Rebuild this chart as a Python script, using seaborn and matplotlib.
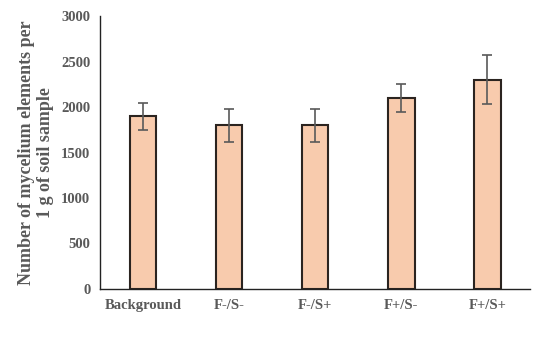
import seaborn as sns
import matplotlib.pyplot as plt
import pandas as pd

categories = ['Background', 'F-/S-', 'F-/S+', 'F+/S-', 'F+/S+']
means = [1900, 1800, 1800, 2100, 2300]
errors = [150, 180, 180, 150, 270]

df = pd.DataFrame({'group': categories, 'count': means})

sns.set_style('white')
plt.rcParams['font.family'] = ['Liberation Serif', 'DejaVu Serif']
plt.rcParams['font.weight'] = 'bold'

fig = plt.figure(figsize=(5.5, 3.51), dpi=100)
ax = fig.add_axes([0.182, 0.177, 0.782, 0.777])

sns.barplot(data=df, x='group', y='count', color='#F8CBAD', saturation=1,
            edgecolor='#2b2420', linewidth=1.5, width=0.31, errorbar=None, ax=ax)
ax.errorbar(range(len(categories)), means, yerr=errors, fmt='none',
            ecolor='#595959', elinewidth=1.2, capsize=3.5, capthick=1.2)

ax.set_ylim(0, 3000)
ax.set_xlim(-0.5, 4.5)
ax.set_yticks(range(0, 3001, 500))
ax.tick_params(axis='both', length=0, labelsize=10.5, labelcolor='#595959', pad=7)
for lbl in ax.get_xticklabels() + ax.get_yticklabels():
    lbl.set_fontweight('bold')
ax.set_xlabel('')
ax.set_ylabel('Number of mycelium elements per\n1 g of soil sample',
              fontsize=13, fontweight='bold', color='#595959', labelpad=5,
              linespacing=1.15)
sns.despine(ax=ax)
ax.spines['left'].set_color('#222222')
ax.spines['bottom'].set_color('#222222')
ax.spines['left'].set_linewidth(1.0)
ax.spines['bottom'].set_linewidth(1.0)

fig.savefig('out.png', dpi=100)
